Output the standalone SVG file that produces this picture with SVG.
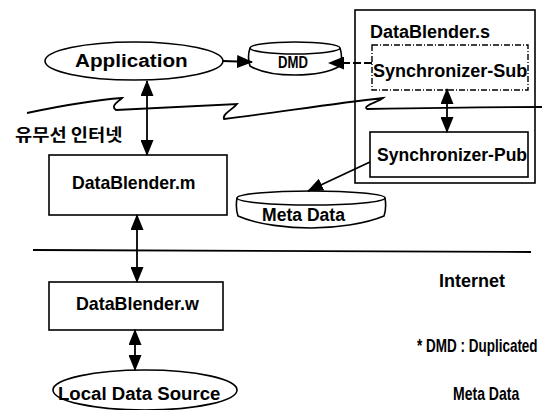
<svg xmlns="http://www.w3.org/2000/svg" width="542" height="410" viewBox="0 0 542 410">
<defs>
<style>
.t{font-family:"Liberation Sans","DejaVu Sans",sans-serif;font-weight:bold;fill:#000}
.k{font-family:"Noto Sans CJK KR","Noto Sans",sans-serif;font-weight:bold;fill:#000}
.s{fill:#fff;stroke:#000;stroke-width:1.6}
.c{fill:none;stroke:#000;stroke-width:1.8}
</style>
<marker id="ah" viewBox="0 0 16 13" refX="15" refY="6.5" markerWidth="16" markerHeight="13" markerUnits="userSpaceOnUse" orient="auto-start-reverse">
<path d="M0,0 L16,6.5 L0,13 Z" fill="#000"/>
</marker>
</defs>
<rect width="542" height="410" fill="#fff"/>

<g id="network-boundary">
<path class="c" d="M27,113 C60,106 95,100 122,98 C118,102 110,106 116,110 C160,108 200,106 237,104 C232,110 222,114 224,119 C280,112 330,104 383,98 C378,102 362,106 367,109 C420,108 480,107 542,107" stroke-width="1.5"/>
<line class="c" x1="33" y1="250" x2="531" y2="252" stroke-width="1.5"/>
</g>

<g id="datablender-s">
<rect x="355" y="10" width="180" height="173" fill="none" stroke="#000" stroke-width="1.6"/>
<text class="t" font-size="18" transform="translate(370,38) scale(1,1)">DataBlender.s</text>
</g>

<g id="application">
<ellipse class="s" cx="134" cy="61" rx="89" ry="19"/>
<text class="t" font-size="19" transform="translate(75,67) scale(1.09,1)">Application</text>
</g>

<g id="dmd">
<path class="s" d="M250,48 C248,54 248,60 250,66 C262,73 278,75 295,75 C312,75 328,73 340,66 C342,60 342,54 340,48"/>
<ellipse class="s" cx="295" cy="48" rx="45" ry="6"/>
<text class="t" font-size="16" transform="translate(278,68) scale(0.82,1)">DMD</text>
</g>

<g id="sync-sub">
<rect x="372" y="45" width="156" height="45" fill="#fff" stroke="#000" stroke-width="1.4" stroke-dasharray="6,2,1,2"/>
<text class="t" font-size="19" transform="translate(373,77) scale(0.95,1)">Synchronizer-Sub</text>
</g>

<g id="sync-pub">
<rect class="s" x="370" y="132" width="158" height="45"/>
<text class="t" font-size="18" transform="translate(377,161) scale(0.975,1)">Synchronizer-Pub</text>
</g>

<g id="datablender-m">
<rect class="s" x="49" y="155" width="178" height="60"/>
<text class="t" font-size="18" transform="translate(72,189) scale(0.98,1)">DataBlender.m</text>
</g>

<g id="meta-data">
<path class="s" d="M237,198 C236,204 236,210 238,216 C258,225 290,228 311,228 C335,228 365,224 384,216 C386,210 386,204 385,198"/>
<ellipse class="s" cx="311" cy="198" rx="74" ry="7"/>
<text class="t" font-size="19" transform="translate(262,221) scale(0.925,1)">Meta Data</text>
</g>

<g id="datablender-w">
<rect class="s" x="49" y="282" width="174" height="48"/>
<text class="t" font-size="18" transform="translate(76,310) scale(0.99,1)">DataBlender.w</text>
</g>

<g id="local-data-source">
<ellipse class="s" cx="145" cy="390" rx="92" ry="20"/>
<text class="t" font-size="19" transform="translate(58,400) scale(0.98,1)">Local Data Source</text>
</g>

<g id="labels">
<text class="k" font-size="17" transform="translate(15,141) scale(1.1,1)">유무선 인터넷</text>
<text class="t" font-size="18" transform="translate(439,287) scale(1,1)">Internet</text>
<text class="t" font-size="18" transform="translate(417,352) scale(0.75,1)">* DMD : Duplicated</text>
<text class="t" font-size="18" transform="translate(453,400) scale(0.78,1)">Meta Data</text>
</g>

<g id="connectors">
<line class="c" x1="223" y1="61" x2="252" y2="62" marker-end="url(#ah)"/>
<line class="c" x1="372" y1="63" x2="329" y2="63" stroke-dasharray="8,3" marker-end="url(#ah)"/>
<line class="c" x1="147" y1="81" x2="147" y2="155" marker-start="url(#ah)" marker-end="url(#ah)"/>
<line class="c" x1="447" y1="89" x2="447" y2="132" marker-start="url(#ah)" marker-end="url(#ah)"/>
<line class="c" x1="370" y1="162" x2="308" y2="191" stroke-width="1.4" marker-end="url(#ah)"/>
<line class="c" x1="137" y1="215" x2="137" y2="282" marker-start="url(#ah)" marker-end="url(#ah)"/>
<line class="c" x1="135" y1="330" x2="135" y2="370" marker-start="url(#ah)" marker-end="url(#ah)"/>
</g>
</svg>
